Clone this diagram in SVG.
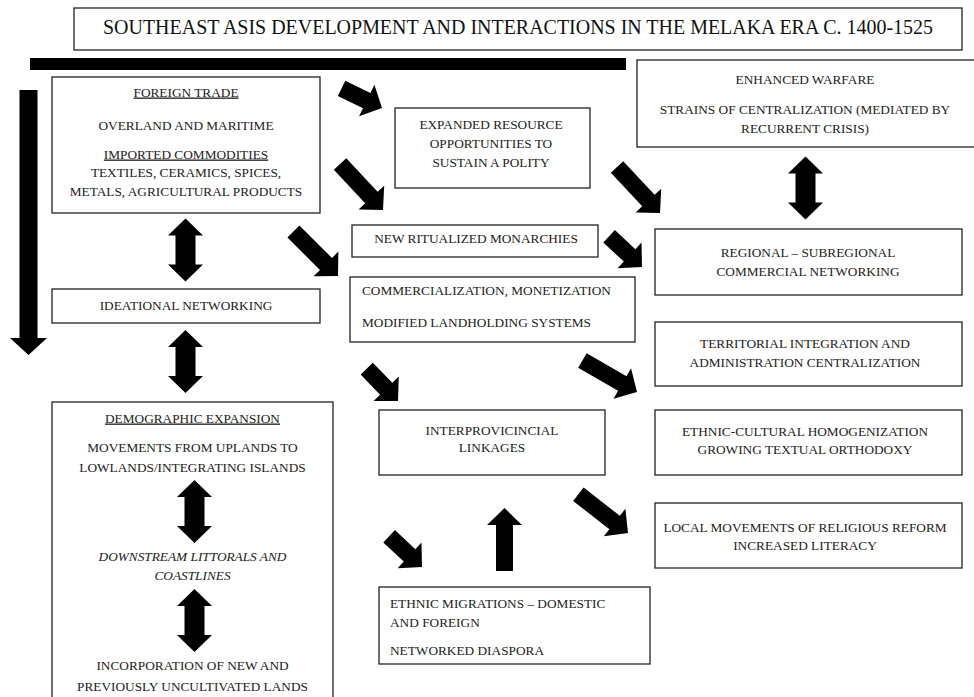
<svg xmlns="http://www.w3.org/2000/svg" xmlns:xlink="http://www.w3.org/1999/xlink" width="974" height="697" viewBox="0 0 974 697">
<style>
.box{fill:#fff;stroke:#222;stroke-width:1.3}
text{font-family:'Liberation Serif','Times New Roman',serif}
.t{font-size:13.3px;fill:#222}
.c{text-anchor:middle}
.u{text-decoration:underline}
.i{font-style:italic}
.ttl{font-size:20px;fill:#111;text-anchor:middle}
.arr{fill:#000}
</style>
<defs>
<path id="dbl" d="M0,-31.5 L17.5,-14.5 L10,-14.5 L10,14.5 L17.5,14.5 L0,31.5 L-17.5,14.5 L-10,14.5 L-10,-14.5 L-17.5,-14.5 Z"/>
<path id="a63" d="M0,0 L-17,-17.5 L-17,-8.5 L-63,-8.5 L-63,8.5 L-17,8.5 L-17,17.5 Z"/>
<path id="a45" d="M0,0 L-17,-17.5 L-17,-8.5 L-45,-8.5 L-45,8.5 L-17,8.5 L-17,17.5 Z"/>
</defs>
<rect width="974" height="697" fill="#fff"/>

<g id="title">
<rect class="box" x="74" y="8" width="888" height="42"/>
<text class="ttl" x="518" y="34" textLength="830" lengthAdjust="spacingAndGlyphs">SOUTHEAST ASIS DEVELOPMENT AND INTERACTIONS IN THE MELAKA ERA C. 1400-1525</text>
</g>

<g id="bar"><rect x="30" y="58" width="596" height="12" fill="#000"/></g>

<g id="foreign-trade">
<rect class="box" x="52" y="77" width="268" height="136"/>
<text class="t c u" x="186" y="96.5">FOREIGN TRADE</text>
<text class="t c" x="186" y="129.5">OVERLAND AND MARITIME</text>
<text class="t c u" x="186" y="158.5">IMPORTED COMMODITIES</text>
<text class="t c" x="186" y="176.5">TEXTILES, CERAMICS, SPICES,</text>
<text class="t c" x="186" y="195.5">METALS, AGRICULTURAL PRODUCTS</text>
</g>

<g id="ideational">
<rect class="box" x="52" y="289" width="268" height="34"/>
<text class="t c" x="186" y="310">IDEATIONAL NETWORKING</text>
</g>

<g id="demographic">
<rect class="box" x="52" y="402" width="281" height="300"/>
<text class="t c u" x="192.5" y="422.5">DEMOGRAPHIC EXPANSION</text>
<text class="t c" x="192.5" y="451.5">MOVEMENTS FROM UPLANDS TO</text>
<text class="t c" x="192.5" y="471.5">LOWLANDS/INTEGRATING ISLANDS</text>
<text class="t c i" x="192.5" y="560.5">DOWNSTREAM LITTORALS AND</text>
<text class="t c i" x="192.5" y="579.5">COASTLINES</text>
<text class="t c" x="192.5" y="669.5">INCORPORATION OF NEW AND</text>
<text class="t c" x="192.5" y="690.5">PREVIOUSLY UNCULTIVATED LANDS</text>
</g>

<g id="expanded-resource">
<rect class="box" x="395" y="108" width="195" height="80"/>
<text class="t c" x="491" y="128.5">EXPANDED RESOURCE</text>
<text class="t c" x="491" y="147.5">OPPORTUNITIES TO</text>
<text class="t c" x="491" y="166.5">SUSTAIN A POLITY</text>
</g>

<g id="new-monarchies">
<rect class="box" x="352" y="225" width="246" height="32"/>
<text class="t c" x="476" y="242.5">NEW RITUALIZED MONARCHIES</text>
</g>

<g id="commercialization">
<rect class="box" x="350" y="277" width="285" height="65"/>
<text class="t" x="362" y="294.5">COMMERCIALIZATION, MONETIZATION</text>
<text class="t" x="362" y="326.5">MODIFIED LANDHOLDING SYSTEMS</text>
</g>

<g id="enhanced-warfare">
<rect class="box" x="637" y="60" width="340" height="87"/>
<text class="t c" x="805" y="83.5">ENHANCED WARFARE</text>
<text class="t c" x="805" y="113.5">STRAINS OF CENTRALIZATION (MEDIATED BY</text>
<text class="t c" x="805" y="132.5">RECURRENT CRISIS)</text>
</g>

<g id="regional">
<rect class="box" x="655" y="229" width="307" height="66"/>
<text class="t c" x="808" y="256.5">REGIONAL – SUBREGIONAL</text>
<text class="t c" x="808" y="275.5">COMMERCIAL NETWORKING</text>
</g>

<g id="territorial">
<rect class="box" x="655" y="322" width="307" height="64"/>
<text class="t c" x="805" y="347.5">TERRITORIAL INTEGRATION AND</text>
<text class="t c" x="805" y="366.5">ADMINISTRATION CENTRALIZATION</text>
</g>

<g id="ethnic-cultural">
<rect class="box" x="655" y="410" width="307" height="65"/>
<text class="t c" x="805" y="435.5">ETHNIC-CULTURAL HOMOGENIZATION</text>
<text class="t c" x="805" y="453.5">GROWING TEXTUAL ORTHODOXY</text>
</g>

<g id="local-movements">
<rect class="box" x="655" y="503" width="307" height="65"/>
<text class="t c" x="805" y="531.5">LOCAL MOVEMENTS OF RELIGIOUS REFORM</text>
<text class="t c" x="805" y="549.5">INCREASED LITERACY</text>
</g>

<g id="interprovincial">
<rect class="box" x="379" y="410" width="226" height="65"/>
<text class="t c" x="492" y="434.5">INTERPROVICINCIAL</text>
<text class="t c" x="492" y="451.5">LINKAGES</text>
</g>

<g id="ethnic-migrations">
<rect class="box" x="379" y="587" width="271" height="77"/>
<text class="t" x="390" y="607.5">ETHNIC MIGRATIONS – DOMESTIC</text>
<text class="t" x="390" y="626.5">AND FOREIGN</text>
<text class="t" x="390" y="654.5">NETWORKED DIASPORA</text>
</g>

<g id="connectors" class="arr">
<path d="M19.5,90 L37.5,90 L37.5,338 L47,338 L28.5,355 L10,338 L19.5,338 Z"/>
<use xlink:href="#dbl" transform="translate(185.5,250)"/>
<use xlink:href="#dbl" transform="translate(185.5,361.5)"/>
<use xlink:href="#dbl" transform="translate(194.5,511.5)"/>
<use xlink:href="#dbl" transform="translate(194.5,620.5)"/>
<use xlink:href="#dbl" transform="translate(805.5,188)"/>
<use xlink:href="#a45" transform="translate(382,108) rotate(26)"/>
<use xlink:href="#a63" transform="translate(383,210) rotate(47)"/>
<use xlink:href="#a63" transform="translate(338,276) rotate(45)"/>
<use xlink:href="#a63" transform="translate(660,213) rotate(47)"/>
<use xlink:href="#a45" transform="translate(642,267) rotate(43)"/>
<use xlink:href="#a45" transform="translate(398,401) rotate(46)"/>
<use xlink:href="#a63" transform="translate(637,392) rotate(30)"/>
<use xlink:href="#a63" transform="translate(628,533) rotate(38)"/>
<use xlink:href="#a45" transform="translate(422,567) rotate(43)"/>
<use xlink:href="#a63" transform="translate(504.5,508) rotate(-90)"/>
</g>
</svg>
